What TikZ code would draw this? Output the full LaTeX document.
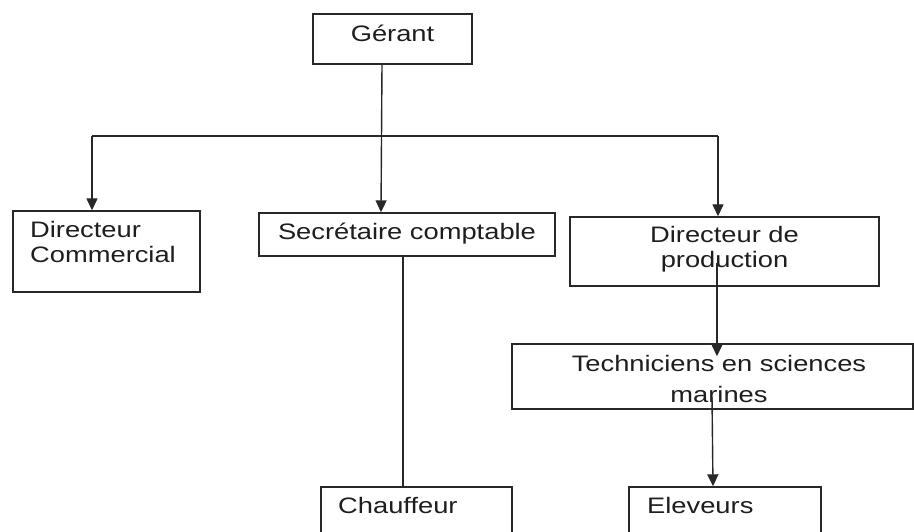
\documentclass[tikz,border=0pt]{standalone}
\usepackage{fontspec}
\setmainfont{Liberation Sans}
\usetikzlibrary{arrows.meta,calc}
\definecolor{ln}{RGB}{40,40,40}
\definecolor{tx}{RGB}{30,30,30}
\newcommand{\sqz}[3]{\scalebox{1}[0.82]{\fontsize{27.3}{#1}\selectfont\begin{tabular}[t]{@{}#2@{}}#3\end{tabular}}}
\begin{document}
\begin{tikzpicture}[x=1pt,y=-1pt,
  box/.style={draw=ln,line width=1.4pt,inner sep=0pt,fill=white},
  txt/.style={inner sep=0pt,text=tx,anchor=base},
  txtl/.style={inner sep=0pt,text=tx,anchor=base west},
  conn/.style={draw=ln,line width=1.4pt,-{Triangle[length=12pt,width=11pt]}},
  plain/.style={draw=ln,line width=1.4pt}]
\useasboundingbox (0,0) rectangle (914,532);
\fill[white] (0,0) rectangle (914,532);
\clip (0,0) rectangle (914,532);

% boxes
\node[box,minimum width=159pt,minimum height=50pt] (gerant) at (392.5,39) {};
\node[box,minimum width=187pt,minimum height=81pt] (dc) at (106.5,251.5) {};
\node[box,minimum width=296pt,minimum height=43pt] (sc) at (407,234.5) {};
\node[box,minimum width=309pt,minimum height=69pt] (dp) at (724.5,251.5) {};
\node[box,minimum width=401pt,minimum height=65pt] (tech) at (712.5,376.5) {};
\node[box,minimum width=191pt,minimum height=70pt] (chauf) at (416.5,522) {};
\node[box,minimum width=192pt,minimum height=70pt] (elev) at (725,522) {};

% texts
\node[txt] (tgerant) at (392.5,42) {\sqz{29}{c}{Gérant}};
\node[txtl] (tdc) at (30,238) {\sqz{29.3}{l}{Directeur\\Commercial}};
\node[txt] (tsc) at (407,239.5) {\sqz{29}{c}{Secrétaire comptable}};
\node[txt] (tdp) at (724.5,243) {\sqz{29.3}{c}{Directeur de\\production}};
\node[txt] (ttech) at (719,371) {\sqz{39}{c}{Techniciens en sciences\\marines}};
\node[txtl] (tchauf) at (338,513) {\sqz{29}{l}{Chauffeur}};
\node[txtl] (telev) at (647,513) {\sqz{29}{l}{Eleveurs}};

% connectors
\coordinate (hl) at (0,136);
\coordinate (dcin) at ([xshift=-14.5pt]dc.north);
\coordinate (dpin) at ([xshift=-6.5pt]dp.north);
\draw[plain] (dcin |- hl) -- (dpin |- hl);
\draw[conn] (dcin |- hl) -- (dcin);
\draw[conn] (dpin |- hl) -- (dpin);
\draw[conn] ([xshift=-10.5pt]gerant.south) -- ([xshift=-26pt]sc.north);
\draw[conn] ([xshift=-7.5pt,yshift=-11.5pt]dp.center) -- ([xshift=4.5pt,yshift=-13pt]tech.north);
\draw[conn] ([xshift=-0.5pt,yshift=-20.5pt]tech.center) -- ([xshift=-12pt]elev.north);
\draw[plain] ([xshift=-4pt]sc.south) -- ([xshift=-13.5pt]chauf.north);
\end{tikzpicture}
\end{document}
